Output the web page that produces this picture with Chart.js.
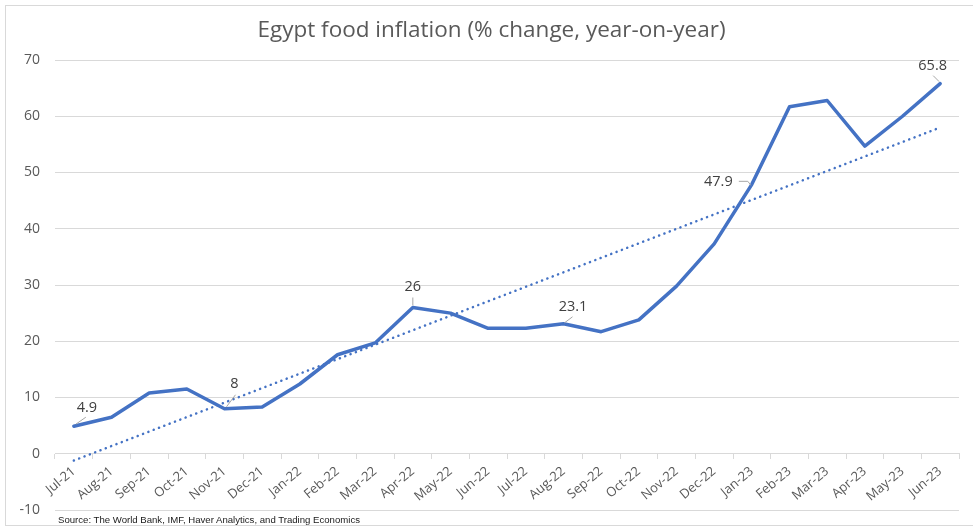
<!DOCTYPE html>
<html><head><meta charset="utf-8">
<script src="https://cdn.jsdelivr.net/npm/chart.js@4"></script>
<style>
html,body{margin:0;padding:0;background:#fff;}
#wrap{position:relative;width:973px;height:528px;overflow:hidden;background:#fff;}
#frame{position:absolute;left:5px;top:5px;width:980px;height:521px;border:1px solid #d9d9d9;box-sizing:border-box;}
#title{position:absolute;left:0;width:983px;top:13px;text-align:center;font-family:'Open Sans';font-size:22.5px;color:#595959;white-space:nowrap;}
#src{position:absolute;left:58px;top:514px;font-family:'Liberation Sans';font-size:9.6px;color:#1a1a1a;white-space:nowrap;}
#c{position:absolute;left:0;top:0;}
</style></head>
<body>
<div id="wrap">
  <div id="frame"></div>
  <canvas id="c" width="973" height="528"></canvas>
  <div id="title">Egypt food inflation (% change, year-on-year)</div>
  <div id="src">Source: The World Bank, IMF, Haver Analytics, and Trading Economics</div>
</div>
<script>
const categories = ['Jul-21','Aug-21','Sep-21','Oct-21','Nov-21','Dec-21','Jan-22','Feb-22','Mar-22','Apr-22','May-22','Jun-22','Jul-22','Aug-22','Sep-22','Oct-22','Nov-22','Dec-22','Jan-23','Feb-23','Mar-23','Apr-23','May-23','Jun-23'];
const foodInflation = [4.9, 6.5, 10.8, 11.5, 8.0, 8.3, 12.4, 17.6, 19.7, 26.0, 25.0, 22.3, 22.3, 23.1, 21.7, 23.8, 29.8, 37.3, 47.9, 61.7, 62.8, 54.7, 60.0, 65.8];
const trendStart = -1.2;
const trendEnd = 58.0;
const yMin = -10, yMax = 70, yStep = 10;
const labelledMonths = ['Jul-21','Nov-21','Apr-22','Aug-22','Jan-23','Jun-23'];

const trendData = categories.map((c, i) => i === 0 ? trendStart : (i === categories.length - 1 ? trendEnd : null));

// label placement (text offset + leader polyline relative to point), keyed by month
const labelStyle = {
  'Jul-21': {t:[13,-18.5], l:[[2,-2],[12,-9]]},
  'Nov-21': {t:[10,-25], l:[[2,-2],[11,-14]]},
  'Apr-22': {t:[0,-21], l:[[0,-2],[0,-10]]},
  'Aug-22': {t:[9.5,-17], l:[[1,-1],[9,-7]]},
  'Jan-23': {t:[-33.5,-2.5], l:[[-13,-3],[-4,-3],[-1,1]]},
  'Jun-23': {t:[-7.5,-18], l:[[-7,-8],[-1,-2]]}
};

const dataLabels = {
  id: 'dataLabels',
  afterDatasetsDraw(chart) {
    const ctx = chart.ctx;
    const meta = chart.getDatasetMeta(0);
    ctx.save();
    labelledMonths.forEach(m => {
      const i = categories.indexOf(m);
      const pt = meta.data[i];
      const st = labelStyle[m];
      ctx.strokeStyle = '#a6a6a6';
      ctx.lineWidth = 1;
      ctx.beginPath();
      st.l.forEach((p, k) => {
        if (k === 0) ctx.moveTo(pt.x + p[0], pt.y + p[1]);
        else ctx.lineTo(pt.x + p[0], pt.y + p[1]);
      });
      ctx.stroke();
      ctx.fillStyle = '#404040';
      ctx.font = '14.5px "Open Sans"';
      ctx.textAlign = 'center';
      ctx.textBaseline = 'middle';
      ctx.fillText(String(foodInflation[i]), pt.x + st.t[0], pt.y + st.t[1]);
    });
    ctx.restore();
  }
};

new Chart(document.getElementById('c'), {
  type: 'line',
  data: {
    labels: categories,
    datasets: [
      {
        label: 'Food inflation',
        data: foodInflation,
        borderColor: '#4472C4',
        borderWidth: 3.5,
        pointRadius: 0,
        tension: 0,
        borderJoinStyle: 'round',
        borderCapStyle: 'round'
      },
      {
        label: 'Linear trend',
        data: trendData,
        spanGaps: true,
        borderColor: '#4472C4',
        borderWidth: 2.5,
        borderDash: [0.1, 5.6],
        borderCapStyle: 'round',
        pointRadius: 0
      }
    ]
  },
  options: {
    responsive: false,
    animation: false,
    devicePixelRatio: 1,
    layout: { padding: { top: 60, bottom: 18, left: 0, right: 14 } },
    plugins: { legend: { display: false }, tooltip: { enabled: false }, title: { display: false } },
    scales: {
      x: {
        type: 'category',
        position: { y: 0 },
        offset: true,
        grid: { drawOnChartArea: false, drawTicks: true, tickLength: 5, color: '#d9d9d9', offset: true },
        border: { display: true, color: '#d9d9d9' },
        ticks: { autoSkip: false, minRotation: 40, maxRotation: 40, padding: 5, color: '#595959', font: { family: 'Open Sans', size: 13 } }
      },
      y: {
        min: yMin, max: yMax,
        afterFit(s) { s.width = 55; },
        grid: { color: '#d9d9d9', drawTicks: false },
        border: { display: false },
        ticks: { stepSize: yStep, padding: 15, color: '#595959', font: { family: 'Open Sans', size: 14, lineHeight: 0.2 } }
      }
    }
  },
  plugins: [dataLabels]
});
</script>
</body></html>
